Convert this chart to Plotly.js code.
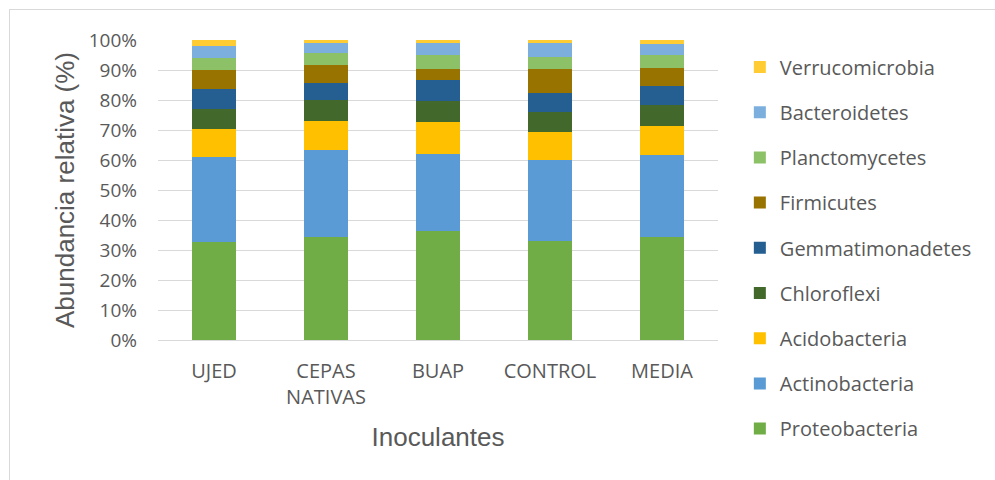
<!DOCTYPE html>
<html>
<head>
<meta charset="utf-8">
<script src="https://cdn.plot.ly/plotly-3.0.1.min.js"></script>
<style>
html,body{margin:0;padding:0;background:#fff;}
#wrap{position:relative;width:995px;height:480px;overflow:hidden;}
#chart{width:995px;height:480px;}
#frame{position:absolute;left:9px;top:9px;width:1000px;height:500px;border:1px solid #d9d9d9;pointer-events:none;}
</style>
</head>
<body>
<div id="wrap"><div id="chart"></div><div id="frame"></div></div>
<script>
const categories = ["UJED", "CEPAS<br>NATIVAS", "BUAP", "CONTROL", "MEDIA"];

const proteobacteria   = [32.8, 34.2, 36.3, 33.1, 34.2];
const actinobacteria   = [28.2, 29.0, 25.8, 27.0, 27.5];
const acidobacteria    = [9.2, 9.9, 10.7, 9.1, 9.7];
const chloroflexi      = [6.9, 6.8, 6.9, 6.7, 6.8];
const gemmatimonadetes = [6.7, 5.9, 7.1, 6.3, 6.4];
const firmicutes       = [6.1, 6.0, 3.5, 8.2, 6.2];
const planctomycetes   = [4.0, 4.0, 4.7, 4.0, 4.1];
const bacteroidetes    = [4.2, 3.3, 4.1, 4.6, 3.9];
const verrucomicrobia  = [1.9, 0.9, 0.9, 1.0, 1.2];

const seriesNames = ["Proteobacteria","Actinobacteria","Acidobacteria","Chloroflexi","Gemmatimonadetes","Firmicutes","Planctomycetes","Bacteroidetes","Verrucomicrobia"];
const seriesValues = [proteobacteria, actinobacteria, acidobacteria, chloroflexi, gemmatimonadetes, firmicutes, planctomycetes, bacteroidetes, verrucomicrobia];
const seriesColors = ["#70AD47","#5B9BD5","#FFC000","#43682B","#255E91","#997300","#8CC168","#7CAFDD","#FFCD33"];

const traces = seriesNames.map((n, i) => ({
  type: "bar",
  name: n,
  x: categories,
  y: seriesValues[i],
  legendgroup: "g" + i,
  legendrank: 1000 - i * 10,
  marker: {color: seriesColors[i], line: {width: 0}}
}));

const layout = {
  width: 995, height: 480,
  barmode: "stack",
  bargap: 0.6,
  paper_bgcolor: "#ffffff",
  plot_bgcolor: "#ffffff",
  margin: {l: 158, r: 277, t: 10, b: 10},
  xaxis: {
    automargin: false,
    showgrid: false, showline: false, zeroline: false,
    tickfont: {family: "Open Sans", size: 20, color: "#595959"},
    ticks: "", ticklabelstandoff: 17,
    title: {text: "Inoculantes", font: {family: "Liberation Sans", size: 26, color: "#595959"}, standoff: 18}
  },
  yaxis: {
    automargin: false,
    domain: [130/460, 430/460],
    range: [0, 100],
    dtick: 10,
    ticksuffix: "%",
    showgrid: true, gridcolor: "#d9d9d9", gridwidth: 1,
    zeroline: true, zerolinecolor: "#d9d9d9", zerolinewidth: 1,
    showline: false,
    tickfont: {family: "Open Sans", size: 19, color: "#595959"},
    ticks: "", ticklabelstandoff: 20,
    title: {text: "Abundancia relativa (%)", font: {family: "Liberation Sans", size: 26, color: "#595959"}, standoff: 6}
  },
  legend: {
    x: 1.039, xanchor: "left",
    y: 0.9185, yanchor: "top",
    traceorder: "grouped",
    tracegroupgap: 16.2,
    font: {family: "Open Sans", size: 20, color: "#595959"},
    bgcolor: "rgba(0,0,0,0)"
  },
  showlegend: true
};

Plotly.newPlot("chart", traces, layout, {displayModeBar: false, staticPlot: true});
</script>
</body>
</html>
